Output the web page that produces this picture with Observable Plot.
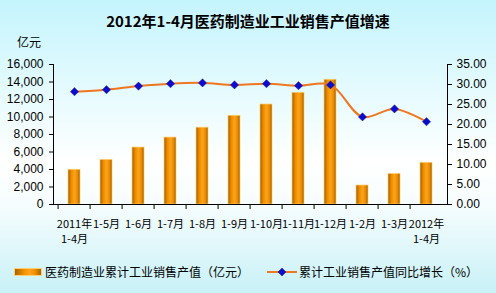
<!DOCTYPE html>
<html><head><meta charset="utf-8">
<script src="https://cdn.jsdelivr.net/npm/d3@7"></script>
<script src="https://cdn.jsdelivr.net/npm/@observablehq/plot@0.6"></script>
<style>
body{margin:0}
#c{position:relative;width:496px;height:293px;overflow:hidden;
background:linear-gradient(180deg,#c4f4fd 0%,#e6fbfe 32%,#ffffff 55%,#f6fdfe 70%,#c8f1f7 100%);
font-family:"Noto Sans CJK SC",sans-serif;color:#000}
#title{position:absolute;top:11px;left:0;width:496px;text-align:center;font-weight:bold;font-size:15px;line-height:20px}
#unit{position:absolute;top:34px;left:17px;font-size:12px;line-height:16px}
#chart{position:absolute;top:0;left:0}
#legend{position:absolute;top:264px;left:14px;font-size:12px;line-height:16px;display:flex;align-items:center;white-space:nowrap}
.sw{display:inline-block;width:28px;height:8px;background:linear-gradient(90deg,#a86200,#f39200 35%,#ffa21e 55%,#f39200 75%,#a86200);border:1px solid #ffcf70;box-sizing:border-box;margin-right:3px}
</style></head>
<body>
<div id="c">
  <div id="title">2012年1-4月医药制造业工业销售产值增速</div>
  <div id="unit">亿元</div>
  <div id="chart"></div>
  <div id="legend">
    <span class="sw"></span><span>医药制造业累计工业销售产值（亿元）</span>
    <svg width="30" height="10" style="margin-left:18px;margin-right:2px"><line x1="0" y1="5" x2="30" y2="5" stroke="#f0761f" stroke-width="2"/><path d="M15,1 L19,5 L15,9 L11,5Z" fill="#0a0ad0" stroke="#222277" stroke-width="0.5"/></svg>
    <span>累计工业销售产值同比增长（%）</span>
  </div>
</div>
<script>
const categories = ["2011年\n1-4月","1-5月","1-6月","1-7月","1-8月","1-9月","1-10月","1-11月","1-12月","1-2月","1-3月","2012年\n1-4月"];
const sales = [3970, 5100, 6510, 7650, 8780, 10140, 11430, 12770, 14260, 2170, 3500, 4770];
const growth = [28.2, 28.7, 29.6, 30.2, 30.4, 29.9, 30.2, 29.7, 29.9, 21.9, 23.9, 20.7];
const leftTicks = [0,2000,4000,6000,8000,10000,12000,14000,16000];
const rightTicks = [0,5,10,15,20,25,30,35];

const leftMax = 16000, rightMax = 35, k = leftMax / rightMax;
const data = categories.map((c, i) => ({cat: c, sales: sales[i], growth: growth[i]}));

const W = 496, H = 250, ml = 53, mr = 49, mt = 64, mb = 46;
const step = (W - ml - mr) / categories.length;

const chart = Plot.plot({
  width: W, height: H,
  marginLeft: ml, marginRight: mr, marginTop: mt, marginBottom: mb,
  style: {background: "transparent", color: "#000", overflow: "visible"},
  x: {domain: categories, paddingInner: 0.63, paddingOuter: 0.315},
  y: {domain: [0, leftMax]},
  marks: [
    Plot.barY(data, {x: "cat", y: "sales", fill: "url(#barGrad)", stroke: "#ffd070", strokeWidth: 0.7}),
    Plot.line(data, {x: "cat", y: d => d.growth * k, stroke: "#f0761f", strokeWidth: 2, curve: "catmull-rom"}),
    Plot.dot(data, {x: "cat", y: d => d.growth * k, symbol: "diamond2", r: 3.7, fill: "#0a0ad0", stroke: "#222277", strokeWidth: 0.5}),
    Plot.axisY({anchor: "left", ticks: leftTicks, tickFormat: d3.format(","), tickSize: 4, tickPadding: 6, fontSize: 12, fontFamily: "Liberation Sans, Arial, sans-serif", label: null}),
    Plot.axisY({anchor: "right", ticks: rightTicks.map(v => v * k), tickFormat: d => (d / k).toFixed(2), tickSize: 4, tickPadding: 5, fontSize: 12, fontFamily: "Liberation Sans, Arial, sans-serif", label: null}),
    Plot.axisX({ticks: categories, tickFormat: () => "", tickSize: 5, dx: -step / 2, label: null}),
    Plot.axisX({ticks: categories, tickSize: 0, tickPadding: 13, fontSize: 11, lineHeight: 1.35, fontFamily: "Noto Sans CJK SC, sans-serif", label: null}),
    Plot.ruleY([0], {stroke: "#000", strokeWidth: 1}),
    Plot.frame({anchor: "left", stroke: "#000"}),
    Plot.frame({anchor: "right", stroke: "#000"})
  ]
});

const svg = d3.select(chart);
const defs = svg.insert("defs", ":first-child");
const g = defs.append("linearGradient").attr("id", "barGrad").attr("x1", "0").attr("x2", "1").attr("y1", "0").attr("y2", "0");
[[0, "#a45f00"], [0.3, "#ee8f00"], [0.55, "#ffa31c"], [0.8, "#e88a00"], [1, "#9c5a00"]].forEach(([o, c]) =>
  g.append("stop").attr("offset", o).attr("stop-color", c));

document.getElementById("chart").appendChild(chart);
</script>
</body></html>
